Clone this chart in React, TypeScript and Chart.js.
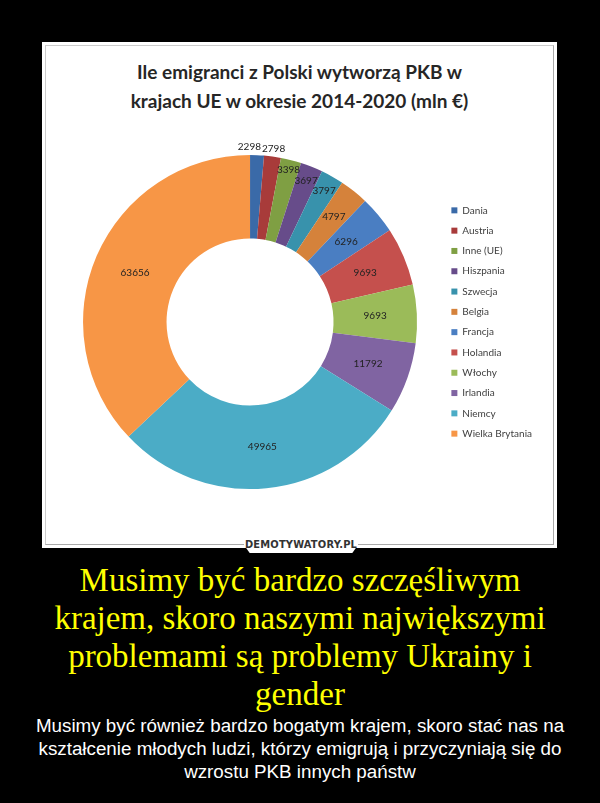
import React, { useEffect, useRef } from "react";
import { Chart, registerables } from "chart.js";
Chart.register(...registerables);

const countries = [
  "Dania", "Austria", "Inne (UE)", "Hiszpania", "Szwecja", "Belgia",
  "Francja", "Holandia", "Włochy", "Irlandia", "Niemcy", "Wielka Brytania",
];
const values = [2298, 2798, 3398, 3697, 3797, 4797, 6296, 9693, 9693, 11792, 49965, 63656];
const sliceColors = [
  "#3A6AA8", "#A83B3A", "#7F9F43", "#674C8A", "#3892AC", "#D5823B",
  "#4A7EC2", "#C5504D", "#9BBB59", "#8064A2", "#4BACC6", "#F79646",
];

const chartTitle = ["Ile emigranci z Polski wytworzą PKB w", "krajach UE w okresie 2014-2020 (mln €)"];
const captionTitle = [
  "Musimy być bardzo szczęśliwym",
  "krajem, skoro naszymi największymi",
  "problemami są problemy Ukrainy i",
  "gender",
];
const captionText = [
  "Musimy być również bardzo bogatym krajem, skoro stać nas na",
  "kształcenie młodych ludzi, którzy emigrują i przyczyniają się do",
  "wzrostu PKB innych państw",
];

const sliceLabels = {
  id: "sliceLabels",
  afterDatasetsDraw(chart: any) {
    const ctx = chart.ctx;
    const meta = chart.getDatasetMeta(0);
    const ds = chart.data.datasets[0].data;
    ctx.save();
    ctx.font = "10px Lato";
    ctx.fillStyle = "#222";
    ctx.textAlign = "center";
    ctx.textBaseline = "middle";
    const items: any[] = [];
    meta.data.forEach((arc: any, i: number) => {
      const p = arc.getProps(["x", "y", "startAngle", "endAngle", "innerRadius", "outerRadius"], true);
      const mid = (p.startAngle + p.endAngle) / 2;
      const deg = ((p.endAngle - p.startAngle) * 180) / Math.PI;
      const text = String(ds[i]);
      const w = ctx.measureText(text).width;
      const midR = (p.innerRadius + p.outerRadius) / 2;
      let r: number;
      let outside = false;
      if (deg < 6) {
        r = p.outerRadius + 8;
        outside = true;
      } else {
        r = midR + Math.max(0, 11.3 - deg) * 7.5;
      }
      items.push({ x: p.x + r * Math.cos(mid), y: p.y + r * Math.sin(mid), w, text, outside });
    });
    for (let i = items.length - 2; i >= 0; i--) {
      const a = items[i];
      const b = items[i + 1];
      if (a.outside && b.outside && Math.abs(a.y - b.y) < 10) {
        const gap = (a.w + b.w) / 2 + 1;
        if (b.x - a.x < gap) a.x = b.x - gap;
      }
    }
    items.forEach((it) => ctx.fillText(it.text, it.x, it.y));
    ctx.restore();
  },
};

export default function App() {
  const ref = useRef<HTMLCanvasElement | null>(null);
  useEffect(() => {
    if (!ref.current) return;
    const chart = new Chart(ref.current, {
      type: "doughnut",
      data: {
        labels: countries,
        datasets: [
          {
            data: values,
            backgroundColor: sliceColors,
            borderWidth: 0,
          },
        ],
      },
      options: {
        animation: false,
        responsive: false,
        maintainAspectRatio: false,
        cutout: "50%",
        layout: { padding: { top: 20, bottom: 20, left: 0, right: 11 } },
        plugins: {
          legend: {
            position: "right",
            labels: {
              boxWidth: 6,
              boxHeight: 6,
              padding: 10.3,
              color: "#404040",
              font: { family: "Lato", size: 10 },
            },
          },
          tooltip: { enabled: false },
          title: { display: false },
        },
      },
      plugins: [sliceLabels],
    });
    return () => chart.destroy();
  }, []);

  return (
    <div style={{ position: "absolute", left: 0, top: 0, width: 600, height: 803, background: "#000", overflow: "hidden" }}>
      <div style={{ position: "absolute", left: 42, top: 42, width: 515, height: 506, background: "#fff" }} />
      <div style={{ position: "absolute", left: 45, top: 45, width: 509, height: 500, borderRight: "1px solid #aaa", borderBottom: "1px solid #aaa", borderLeft: "1px solid #ccc", borderTop: "1px solid #ccc", boxSizing: "border-box" }} />
      <div style={{ position: "absolute", left: 42, top: 57, width: 515, textAlign: "center", fontFamily: "Lato", fontWeight: 700, fontSize: 19, lineHeight: "29px", color: "#262626" }}>
        {chartTitle.map((t, i) => (<div key={i}>{t}</div>))}
      </div>
      <canvas ref={ref} width={494} height={374} style={{ position: "absolute", left: 59, top: 135, width: 494, height: 374 }} />
      <div style={{ position: "absolute", left: 244, top: 537, width: 114, height: 16, background: "#fff", clipPath: "polygon(0 0, 100% 0, 100% 50%, 95% 100%, 5% 100%, 0 50%)" }} />
      <div style={{ position: "absolute", left: 244, top: 537, width: 114, height: 16, textAlign: "center", fontFamily: "DejaVu Sans Condensed, DejaVu Sans", fontWeight: 700, fontSize: 11, lineHeight: "16px", color: "#333", letterSpacing: 0.2 }}>
        DEMOTYWATORY.PL
      </div>
      <div style={{ position: "absolute", left: 0, top: 560.5, width: 600, textAlign: "center", fontFamily: "Liberation Serif", fontSize: 33, lineHeight: "38px", color: "#ffff00" }}>
        {captionTitle.map((t, i) => (<div key={i}>{t}</div>))}
      </div>
      <div style={{ position: "absolute", left: 0, top: 713.5, width: 600, textAlign: "center", fontFamily: "Liberation Sans", fontSize: 18.8, lineHeight: "23.3px", color: "#fff" }}>
        {captionText.map((t, i) => (<div key={i}>{t}</div>))}
      </div>
    </div>
  );
}
